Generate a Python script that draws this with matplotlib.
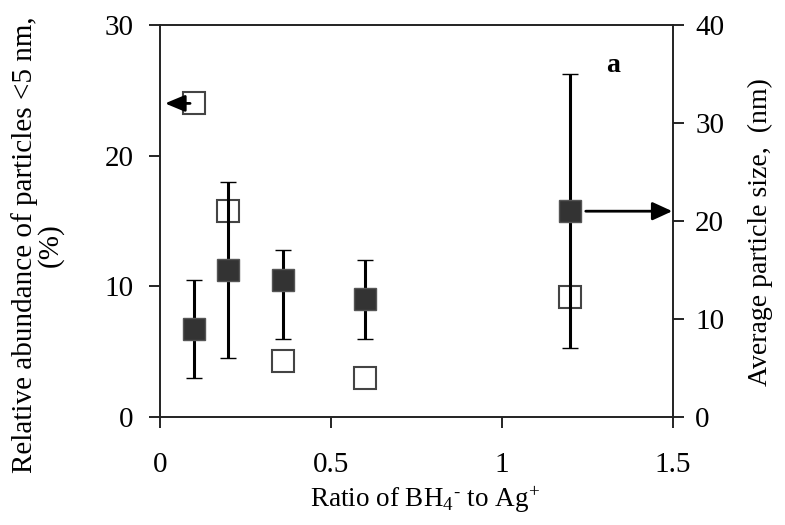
import matplotlib
matplotlib.use("Agg")
import matplotlib.pyplot as plt

plt.rcParams['font.family'] = 'serif'
plt.rcParams['font.serif'] = ['Liberation Serif', 'DejaVu Serif']
plt.rcParams['mathtext.fontset'] = 'custom'
plt.rcParams['mathtext.rm'] = 'Liberation Serif'
plt.rcParams['mathtext.it'] = 'Liberation Serif:italic'
plt.rcParams['mathtext.bf'] = 'Liberation Serif:bold'

# ratio of BH4- to Ag+
ratio = [0.1, 0.2, 0.36, 0.6, 1.2]
# relative abundance of particles < 5 nm (%), left axis, open squares
abundance = [24.0, 15.8, 4.3, 3.0, 9.2]
# average particle size (nm), right axis, filled squares
size = [9.0, 15.0, 14.0, 12.0, 21.0]
size_low = [4.0, 6.0, 8.0, 8.0, 7.0]
size_high = [14.0, 24.0, 17.0, 16.0, 35.0]

err_lo = [s - l for s, l in zip(size, size_low)]
err_hi = [h - s for s, h in zip(size, size_high)]

fig = plt.figure(figsize=(7.85, 5.25), dpi=100)
ax = fig.add_axes([0.2038, 0.2057, 0.6535, 0.7467])
ax2 = ax.twinx()

ax.plot(ratio, abundance, 's', ms=16, mfc='white', mec='#444444', mew=1.5, zorder=3)
ax2.errorbar(ratio, size, yerr=[err_lo, err_hi], fmt='s', ms=16.5, mfc='#333333',
             mec='#555555', mew=1, ecolor='black', elinewidth=2.2, capsize=6,
             capthick=2.2, zorder=3)

ax.set_xlim(0, 1.5)
ax.set_ylim(0, 30)
ax2.set_ylim(0, 40)
ax.set_xticks([0, 0.5, 1, 1.5])
ax.set_xticklabels(['0', '0.5', '1', '1.5'])
ax.set_yticks([0, 10, 20, 30])
ax2.set_yticks([0, 10, 20, 30, 40])

for a in (ax, ax2):
    a.tick_params(direction='out', length=8, width=1.2, labelsize=21)
    for sp in a.spines.values():
        sp.set_linewidth(1.2)
        sp.set_color('#222222')
ax.tick_params(axis='x', pad=17)
ax.tick_params(axis='y', pad=11)
ax2.tick_params(axis='y', pad=8)

ax.set_xlabel(r'Ratio of BH$_4$$^{\text{-}}$ to Ag$^{+}$', fontsize=19.5)
ax.xaxis.set_label_coords(0.517, -0.173)
ax.set_ylabel('Relative abundance of particles <5 nm,\n(%)', fontsize=21,
              linespacing=0.95)
ax.yaxis.set_label_coords(-0.188, 0.439)
ax2.set_ylabel('Average particle size,  (nm)', fontsize=20)
ax2.yaxis.set_label_coords(1.145, 0.472)

ax.annotate('', xy=(0.0146, abundance[0]), xytext=(0.088, abundance[0]),
            arrowprops=dict(arrowstyle='-|>,head_length=1.2,head_width=0.5',
                            color='black', lw=2, shrinkA=0, shrinkB=0))
ax2.annotate('', xy=(1.498, size[4]), xytext=(1.245, size[4]),
             arrowprops=dict(arrowstyle='-|>,head_length=1.2,head_width=0.55',
                             color='black', lw=2, shrinkA=0, shrinkB=0))

ax.text(1.325, 26.9, 'a', fontsize=20, fontweight='bold', ha='center', va='center')

fig.savefig('out.png', dpi=100)
